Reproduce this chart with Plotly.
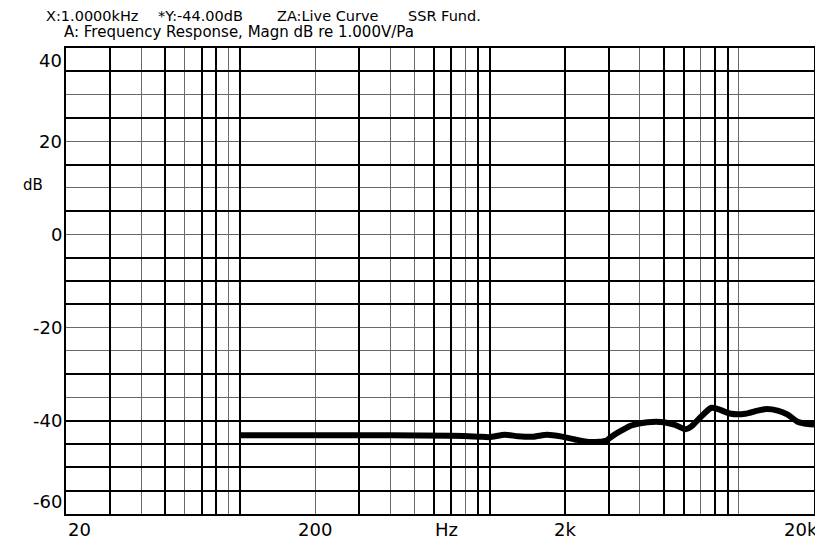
import math
import plotly.graph_objects as go

# ---- data ----
freq_hz = [100, 200, 400, 700, 900, 1000, 1150, 1300, 1500, 1700, 1950, 2200, 2450,
           2750, 2950, 3100, 3400, 3700, 4300, 5000, 5550, 6100, 6450, 7050, 7750,
           8250, 9300, 10600, 11900, 12700, 14300, 15700, 17200, 18900, 20000]
magn_db = [-43.1, -43.1, -43.1, -43.2, -43.4, -43.5, -43.0, -43.3, -43.4, -43.0, -43.4,
           -44.0, -44.5, -44.5, -44.2, -43.3, -42.0, -41.0, -40.3, -40.3, -40.9, -41.8,
           -41.2, -39.1, -37.2, -37.5, -38.5, -38.5, -37.8, -37.5, -37.8, -38.7, -40.2,
           -40.7, -40.8]

x_tick_vals = [20, 200, 2000, 20000]
x_tick_text = ["20", "200", "2k", "20k"]
y_tick_vals = [40, 20, 0, -20, -40, -60]
y_tick_text = ["40", "20", "0", "-20", "-40", "-60"]

x_grid_thick = [30, 50, 70, 80, 100, 300, 600, 700, 900, 1000, 2000, 3000, 5000, 6000, 8000, 9000]
x_grid_thin = [40, 60, 90, 200, 400, 500, 800, 4000, 7000, 10000]
y_grid_thick = [35, 25, 15, 5, -5, -10, -15, -30, -40, -45, -50, -55]
y_grid_thin = [30, 20, 10, 0, -20, -25, -35]

header_items = ["X:1.0000kHz", "*Y:-44.00dB", "ZA:Live Curve", "SSR Fund."]
header_x_px = [44, 156, 276, 407]
subtitle = "A: Frequency Response, Magn dB re 1.000V/Pa"

FONT = "DejaVu Sans"
# the page body adds an 8px offset; size the figure so the plot area lands at 66..816 x 48..514
W, H = 815, 534
L, R, T, B = 58, 7, 40, 28
PW = W - L - R
PL_SCREEN = 66

fig = go.Figure()
fig.add_trace(go.Scatter(
    x=freq_hz, y=magn_db, mode="lines",
    line=dict(color="black", width=6, shape="spline", smoothing=0.6),
    hoverinfo="skip", showlegend=False,
))

fig.update_layout(
    width=W, height=H,
    margin=dict(l=L, r=R, t=T, b=B, pad=0),
    paper_bgcolor="white", plot_bgcolor="white",
    font=dict(family=FONT, color="black"),
    showlegend=False,
)
fig.update_xaxes(
    type="log", range=[math.log10(20), math.log10(20000)],
    tickmode="array", tickvals=x_grid_thick, showticklabels=False, ticks="",
    showgrid=True, gridcolor="black", gridwidth=2,
    minor=dict(tickmode="array", tickvals=x_grid_thin, showgrid=True,
               gridcolor="#6a6a6a", gridwidth=1, ticks=""),
    showline=True, mirror=True, linecolor="black", linewidth=2, zeroline=False,
)
fig.update_yaxes(
    range=[-60, 40],
    tickmode="array", tickvals=y_grid_thick, showticklabels=False, ticks="",
    showgrid=True, gridcolor="black", gridwidth=2,
    minor=dict(tickmode="array", tickvals=y_grid_thin, showgrid=True,
               gridcolor="#6a6a6a", gridwidth=1, ticks=""),
    showline=True, mirror=True, linecolor="black", linewidth=2, zeroline=False,
)

TICK_SIZE = 18
ann = []
# y tick labels
for v, t in zip(y_tick_vals, y_tick_text):
    ya = "top" if v == max(y_tick_vals) else ("bottom" if v == min(y_tick_vals) else "middle")
    ann.append(dict(x=0, xref="paper", y=v, yref="y", text=t, showarrow=False,
                    xanchor="right", yanchor=ya, xshift=-2,
                    font=dict(family=FONT, size=TICK_SIZE, color="black")))
# x tick labels
for i, (v, t) in enumerate(zip(x_tick_vals, x_tick_text)):
    xa = "left" if i == 0 else ("right" if i == len(x_tick_vals) - 1 else "center")
    xs = 6 if i == len(x_tick_vals) - 1 else 0
    ann.append(dict(x=math.log10(v), xref="x", y=0, yref="paper", text=t, showarrow=False,
                    xanchor=xa, yanchor="top", xshift=xs, yshift=-3,
                    font=dict(family=FONT, size=TICK_SIZE, color="black")))
# axis titles
ann.append(dict(x=(448 - PL_SCREEN) / PW, xref="paper", y=0, yref="paper", text="Hz",
                showarrow=False, xanchor="center", yanchor="top", yshift=-3,
                font=dict(family=FONT, size=TICK_SIZE, color="black")))
ann.append(dict(x=(33 - PL_SCREEN) / PW, xref="paper", y=10.5, yref="y", text="dB",
                showarrow=False, xanchor="center", yanchor="middle",
                font=dict(family=FONT, size=15, color="black")))
# header lines
for txt, px in zip(header_items, header_x_px):
    ann.append(dict(x=(px - PL_SCREEN) / PW, xref="paper", y=1, yref="paper", text=txt,
                    showarrow=False, xanchor="left", yanchor="middle", yshift=48 - 16,
                    font=dict(family=FONT, size=14.5, color="black")))
ann.append(dict(x=(62 - PL_SCREEN) / PW, xref="paper", y=1, yref="paper", text=subtitle,
                showarrow=False, xanchor="left", yanchor="middle", yshift=48 - 32,
                font=dict(family=FONT, size=15, color="black")))
fig.update_layout(annotations=ann)

fig.write_html("out.html")
